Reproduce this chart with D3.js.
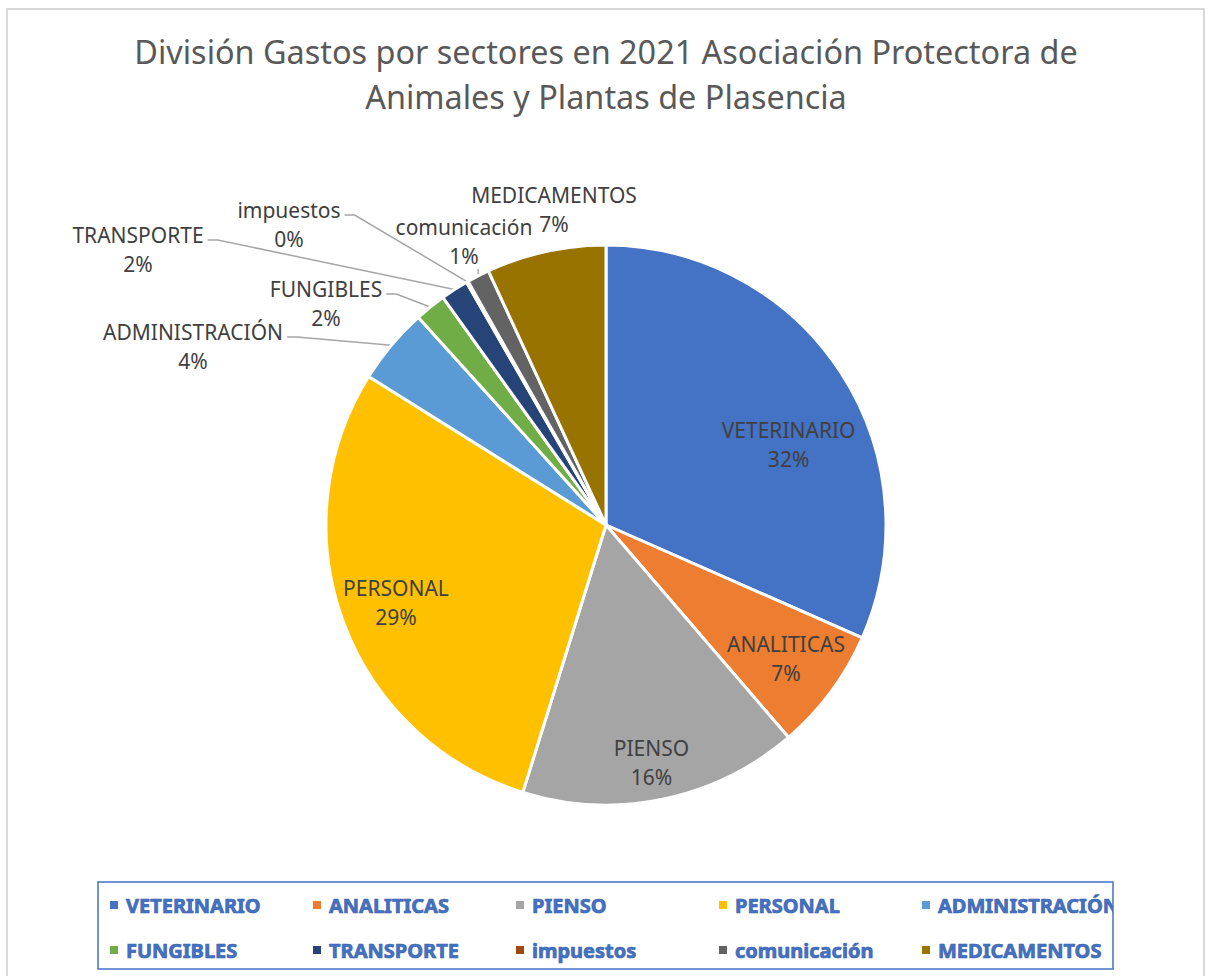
<!DOCTYPE html>
<html>
<head>
<meta charset="utf-8">
<script src="https://cdn.jsdelivr.net/npm/d3@7"></script>
<style>
  body { margin: 0; background: #fff; }
  text { font-family: "Noto Sans", "DejaVu Sans", sans-serif; }
</style>
</head>
<body>
<div id="pie_chart"></div>
<script>
// chart data (share of spending)
var categories = ["VETERINARIO", "ANALITICAS", "PIENSO", "PERSONAL", "ADMINISTRACIÓN",
  "FUNGIBLES", "TRANSPORTE", "impuestos", "comunicación", "MEDICAMENTOS"];
var values = [31.6, 7.1, 16.1, 29.1, 4.4, 1.8, 1.6, 0.1, 1.3, 6.9];
var colors = ["#4472c4", "#ed7d31", "#a5a5a5", "#ffc000", "#5b9bd5",
  "#70ad47", "#264478", "#9e480e", "#636363", "#997300"];
var titleLines = ["División Gastos por sectores en 2021 Asociación Protectora de",
  "Animales y Plantas de Plasencia"];

// labels that sit outside the pie (offset of label from pie centre)
var outsideLabels = {
  "ADMINISTRACIÓN": { dx: -413, dy: -193, leader: "side" },
  "FUNGIBLES": { dx: -280, dy: -236, leader: "side" },
  "TRANSPORTE": { dx: -468, dy: -290, leader: "side" },
  "impuestos": { dx: -317, dy: -315, leader: "side" },
  "comunicación": { dx: -142, dy: -298, leader: "below" },
  "MEDICAMENTOS": { dx: -52, dy: -330, leader: "none" }
};
// small nudges for the "best fit" inside labels
var insideNudge = {
  "VETERINARIO": [-5, 42],
  "PIENSO": [0, 18]
};

var W = 1211, H = 976;
var cx = 606, cy = 525, R = 280;
var lineGap = 29;

var svg = d3.select("#pie_chart")
  .append("svg")
  .attr("width", W)
  .attr("height", H);

// chart area border
svg.append("rect")
  .attr("x", 7)
  .attr("y", 9)
  .attr("width", 1197)
  .attr("height", 990)
  .style("fill", "none")
  .style("stroke", "#d9d9d9")
  .style("stroke-width", 2);

// title
svg.append("g")
  .selectAll("text")
  .data(titleLines)
  .enter()
  .append("text")
  .attr("x", cx)
  .attr("y", function (d, i) { return 64 + i * 45; })
  .attr("text-anchor", "middle")
  .attr("font-size", 32.4)
  .style("fill", "#595959")
  .text(function (d) { return d; });

var data = categories.map(function (c, i) { return { name: c, value: values[i], color: colors[i] }; });
var total = d3.sum(values);
var pct = d3.format(".0%");

var pie = d3.pie()
  .sort(null)
  .value(function (d) { return d.value; });
var arcs = pie(data);

var arc = d3.arc().innerRadius(0).outerRadius(R);
var edgeArc = d3.arc().innerRadius(R).outerRadius(R);
var labelArc = d3.arc().innerRadius(R * 0.8).outerRadius(R * 0.8);

var g = svg.append("g")
  .attr("transform", "translate(" + cx + "," + cy + ")");

// slices
g.selectAll("path.slice")
  .data(arcs)
  .enter()
  .append("path")
  .attr("class", "slice")
  .attr("d", arc)
  .style("fill", function (d) { return d.data.color; })
  .style("stroke", "#fff")
  .style("stroke-width", 3)
  .style("stroke-linejoin", "round");

// labels inside the big slices
var inside = arcs.filter(function (d) { return !outsideLabels[d.data.name]; });
var insideG = g.selectAll("g.inlabel")
  .data(inside)
  .enter()
  .append("g")
  .attr("class", "inlabel")
  .attr("transform", function (d) {
    var c = labelArc.centroid(d);
    var n = insideNudge[d.data.name] || [0, 0];
    return "translate(" + (c[0] + n[0]) + "," + (c[1] + n[1] - lineGap / 2) + ")";
  });
insideG.append("text")
  .attr("text-anchor", "middle")
  .attr("dominant-baseline", "central")
  .attr("font-size", 21)
  .style("fill", "#404040")
  .text(function (d) { return d.data.name; });
insideG.append("text")
  .attr("y", lineGap)
  .attr("text-anchor", "middle")
  .attr("dominant-baseline", "central")
  .attr("font-size", 21)
  .style("fill", "#404040")
  .text(function (d) { return pct(d.data.value / total); });

// labels outside with leader lines
var outside = arcs.filter(function (d) { return outsideLabels[d.data.name]; });
outside.forEach(function (d) {
  var pos = outsideLabels[d.data.name];
  var t1 = g.append("text")
    .attr("x", pos.dx)
    .attr("y", pos.dy)
    .attr("text-anchor", "middle")
    .attr("dominant-baseline", "central")
    .attr("font-size", 21)
    .style("fill", "#404040")
    .text(d.data.name);
  g.append("text")
    .attr("x", pos.dx)
    .attr("y", pos.dy + lineGap)
    .attr("text-anchor", "middle")
    .attr("dominant-baseline", "central")
    .attr("font-size", 21)
    .style("fill", "#404040")
    .text(pct(d.data.value / total));

  var end = edgeArc.centroid(d);
  var pts = null;
  if (pos.leader == "side") {
    var x0 = pos.dx + t1.node().getComputedTextLength() / 2 + 4;
    var y0 = pos.dy + 5;
    pts = [[x0, y0], [x0 + 10, y0], end];
  } else if (pos.leader == "below") {
    pts = [[end[0], pos.dy + lineGap + 13], end];
  }
  if (pts) {
    g.insert("path", "path.slice")
      .attr("d", d3.line()(pts))
      .style("fill", "none")
      .style("stroke", "#a6a6a6")
      .style("stroke-width", 1.5);
  }
});

// legend
var lgX = 98, lgY = 882, lgW = 1015, lgH = 87;
svg.append("clipPath")
  .attr("id", "legclip")
  .append("rect")
  .attr("x", lgX)
  .attr("y", lgY)
  .attr("width", lgW)
  .attr("height", lgH);

var legend = svg.append("g").attr("clip-path", "url(#legclip)");
var item = legend.selectAll("g.item")
  .data(data)
  .enter()
  .append("g")
  .attr("class", "item")
  .attr("transform", function (d, i) {
    return "translate(" + (110 + (i % 5) * 203) + "," + (905 + Math.floor(i / 5) * 45) + ")";
  });
item.append("rect")
  .attr("x", 0)
  .attr("y", -4)
  .attr("width", 8)
  .attr("height", 8)
  .style("fill", function (d) { return d.color; });
item.append("text")
  .attr("x", 16)
  .attr("dominant-baseline", "central")
  .attr("font-size", 20)
  .attr("font-weight", "bold")
  .style("fill", "#4472c4")
  .style("stroke", "#3a62ad")
  .style("stroke-width", 0.7)
  .text(function (d) { return d.name; });

svg.append("rect")
  .attr("x", lgX)
  .attr("y", lgY)
  .attr("width", lgW)
  .attr("height", lgH)
  .style("fill", "none")
  .style("stroke", "#4472c4")
  .style("stroke-width", 1.5);
</script>
</body>
</html>
